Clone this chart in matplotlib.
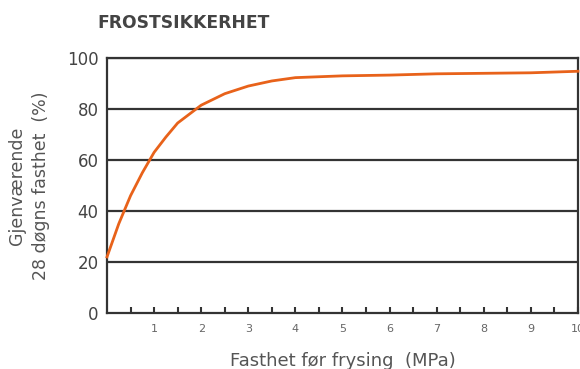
import matplotlib
matplotlib.use("Agg")
import matplotlib.pyplot as plt
import numpy as np

strength = [0.0, 0.25, 0.5, 0.75, 1.0, 1.25, 1.5, 1.75, 2.0, 2.5, 3.0, 3.5, 4.0, 5.0, 6.0, 7.0, 8.0, 9.0, 10.0]
remaining = [22, 35, 46, 55, 63, 69, 74.5, 78, 81.5, 86, 89, 91, 92.3, 93, 93.3, 93.8, 94, 94.2, 94.8]
ytick_vals = [0, 20, 40, 60, 80, 100]
xtick_vals = [1, 2, 3, 4, 5, 6, 7, 8, 9, 10]

fig = plt.figure(figsize=(5.8, 3.69), dpi=100)
ax = fig.add_axes([0.1845, 0.1518, 0.812, 0.691])
ax.plot(strength, remaining, color="#E8621A", lw=2.0, zorder=3, clip_on=False)
ax.set_xlim(0, 10)
ax.set_ylim(0, 100)

for v in ytick_vals[1:]:
    ax.axhline(v, color="#333333", lw=1.6, zorder=2)

for s in ax.spines.values():
    s.set_color("#333333")
    s.set_linewidth(1.6)

ax.set_yticks(ytick_vals)
ax.set_yticklabels([str(v) for v in ytick_vals], fontsize=12, color="#444444")
ax.tick_params(axis="y", length=0, pad=6)
ax.set_xticks(xtick_vals)
ax.set_xticklabels([str(v) for v in xtick_vals], fontsize=8, color="#666666")
ax.set_xticks(np.arange(0.5, 10, 1.0), minor=True)
ax.tick_params(axis="x", which="both", direction="in", length=4.5, width=1.5, color="#333333", pad=8)

ax.set_xlabel("Fasthet før frysing  (MPa)", fontsize=13, color="#555555", labelpad=13)
ax.set_ylabel("Gjenværende\n28 døgns fasthet  (%)", fontsize=12.5, color="#555555", labelpad=12, linespacing=1.45)

fig.text(0.168, 1 - 28 / 369, "FROSTSIKKERHET", fontsize=12.3, fontweight="bold", color="#444444",
         va="baseline")

fig.savefig("out.png", dpi=100)
